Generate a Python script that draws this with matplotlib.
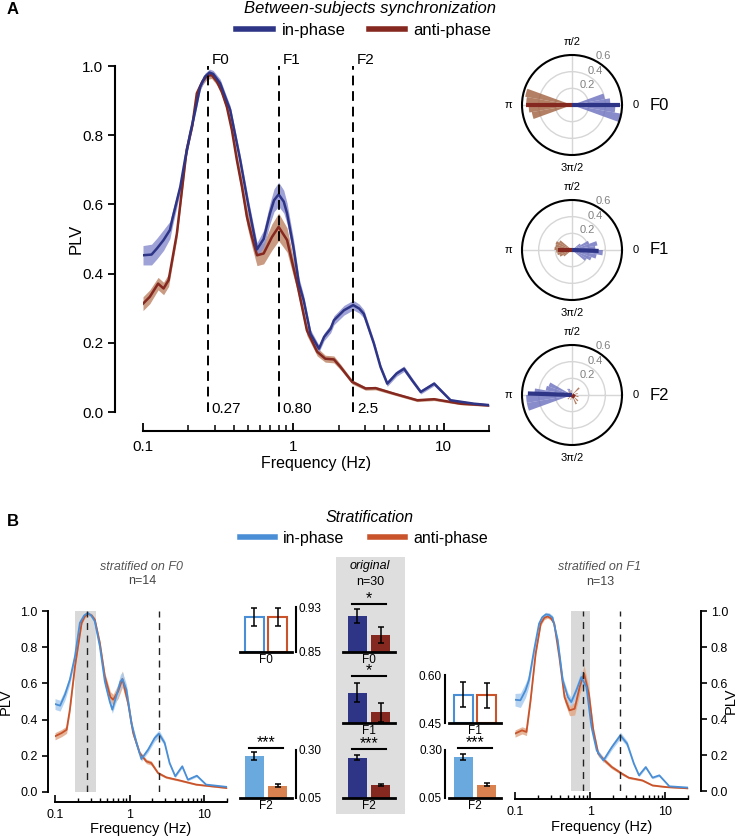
import numpy as np
import matplotlib
matplotlib.use("Agg")
import matplotlib.pyplot as plt
import matplotlib.patches as patches
from matplotlib.lines import Line2D

plt.rcParams['font.family'] = ['Liberation Sans', 'DejaVu Sans']

W, H = 736, 840

# ---- panel A : between-subjects PLV spectrum ----
a_freq_in = [0.100, 0.114, 0.124, 0.137, 0.151, 0.157, 0.177, 0.190, 0.206, 0.223, 0.240,
             0.258, 0.277, 0.293, 0.326, 0.352, 0.380, 0.443, 0.504, 0.573, 0.634, 0.700,
             0.744, 0.798, 0.863, 0.908, 1.00, 1.09, 1.17, 1.30, 1.48, 1.60, 1.77, 1.86,
             2.17, 2.50, 2.74, 2.94, 3.43, 3.80, 4.21, 4.85, 5.44, 6.20, 7.03, 8.63,
             11.1, 15.9, 20.0]
a_plv_in = [0.453, 0.455, 0.473, 0.497, 0.526, 0.559, 0.651, 0.728, 0.805, 0.873, 0.940,
            0.969, 0.981, 0.977, 0.950, 0.911, 0.873, 0.728, 0.593, 0.470, 0.500, 0.575,
            0.612, 0.629, 0.608, 0.574, 0.477, 0.370, 0.323, 0.226, 0.183, 0.217, 0.241, 0.265,
            0.294, 0.309, 0.299, 0.284, 0.198, 0.130, 0.082, 0.111, 0.125, 0.090, 0.058, 0.082,
            0.034, 0.024, 0.020]
a_err_in = [0.028, 0.030, 0.030, 0.030, 0.025, 0.022, 0.015, 0.013, 0.012, 0.011, 0.010,
            0.010, 0.010, 0.010, 0.012, 0.012, 0.012, 0.015, 0.018, 0.020, 0.025, 0.030,
            0.033, 0.035, 0.033, 0.030, 0.025, 0.018, 0.015, 0.012, 0.010, 0.011, 0.012, 0.013,
            0.014, 0.014, 0.013, 0.012, 0.010, 0.009, 0.008, 0.008, 0.008, 0.007, 0.006, 0.006,
            0.004, 0.003, 0.003]

a_freq_anti = [0.100, 0.111, 0.126, 0.137, 0.148, 0.168, 0.195, 0.213, 0.228, 0.248, 0.266,
               0.286, 0.310, 0.334, 0.361, 0.390, 0.421, 0.455, 0.491, 0.530, 0.573, 0.634,
               0.721, 0.798, 0.908, 1.06, 1.23, 1.44, 1.63, 1.86, 2.06, 2.46, 3.02, 3.52,
               4.67, 6.67, 8.63, 13.0, 20.0]
a_plv_anti = [0.313, 0.333, 0.371, 0.357, 0.381, 0.516, 0.757, 0.829, 0.921, 0.955, 0.971,
              0.974, 0.955, 0.926, 0.882, 0.815, 0.728, 0.651, 0.564, 0.506, 0.453, 0.458,
              0.506, 0.535, 0.497, 0.371, 0.236, 0.174, 0.154, 0.152, 0.130, 0.087, 0.068, 0.069,
              0.053, 0.034, 0.037, 0.024, 0.019]
a_err_anti = [0.020, 0.020, 0.018, 0.018, 0.018, 0.015, 0.012, 0.011, 0.010, 0.010, 0.010,
              0.010, 0.010, 0.011, 0.012, 0.014, 0.018, 0.022, 0.025, 0.028, 0.030, 0.030,
              0.038, 0.040, 0.035, 0.020, 0.015, 0.012, 0.010, 0.010, 0.008, 0.006, 0.005, 0.005,
              0.004, 0.004, 0.004, 0.003, 0.003]

peak_freqs = [0.27, 0.80, 2.5]
peak_names = ['F0', 'F1', 'F2']
peak_labels = ['0.27', '0.80', '2.5']

# rose histograms (bin centre in degrees, PLV) for F0, F1, F2
rose_in_ang = [[15, 5, -5, -15],
               [35, 25, 15, 5, -5, -15, -25, -35],
               [115, 125, 155, 165, 175, 185, 195]]
rose_in_val = [[0.40, 0.46, 0.52, 0.60],
               [0.12, 0.22, 0.31, 0.28, 0.37, 0.30, 0.25, 0.20],
               [0.08, 0.09, 0.30, 0.32, 0.45, 0.55, 0.55]]
rose_anti_ang = [[165, 175, 185, 195],
                 [145, 155, 165, 175, 185, 195, 205, 215],
                 [15, 45, 100, 135, 165, 225, 255, 295, 315, 345]]
rose_anti_val = [[0.57, 0.55, 0.52, 0.49],
                 [0.18, 0.21, 0.20, 0.21, 0.19, 0.18, 0.16, 0.12],
                 [0.07, 0.12, 0.06, 0.06, 0.05, 0.07, 0.06, 0.12, 0.10, 0.08]]
mean_in_ang = [0, -2, 178]
mean_in_len = [0.58, 0.32, 0.53]
mean_anti_ang = [180, 180, -40]
mean_anti_len = [0.55, 0.17, 0.04]

# ---- panel B : stratified spectra ----
s0_freq_in = [0.100, 0.117, 0.136, 0.158, 0.185, 0.215, 0.245, 0.273, 0.305, 0.341, 0.398,
              0.464, 0.490, 0.540, 0.585, 0.660, 0.750, 0.798, 0.903, 1.05, 1.23, 1.43,
              1.76, 2.15, 2.46, 2.93, 3.41, 4.06, 5.04, 5.99, 7.90, 10.5, 20.0]
s0_plv_in = [0.486, 0.477, 0.538, 0.620, 0.750, 0.934, 0.975, 0.989, 0.975, 0.943, 0.805,
             0.611, 0.570, 0.500, 0.455, 0.530, 0.610, 0.624, 0.565, 0.381, 0.271, 0.182,
             0.234, 0.298, 0.322, 0.271, 0.160, 0.087, 0.142, 0.068, 0.090, 0.041, 0.028]
s0_err_in = [0.03, 0.03, 0.03, 0.025, 0.02, 0.012, 0.01, 0.01, 0.01, 0.012, 0.015,
             0.02, 0.02, 0.02, 0.02, 0.03, 0.04, 0.04, 0.03, 0.02, 0.015, 0.012,
             0.015, 0.018, 0.02, 0.015, 0.01, 0.008, 0.008, 0.006, 0.006, 0.004, 0.004]
s0_freq_anti = [0.100, 0.123, 0.143, 0.158, 0.185, 0.227, 0.250, 0.278, 0.310, 0.341, 0.398,
                0.464, 0.550, 0.600, 0.699, 0.798, 0.950, 1.11, 1.36, 1.67, 1.94, 2.39, 3.08,
                4.64, 7.74, 20.0]
s0_plv_anti = [0.308, 0.326, 0.344, 0.455, 0.694, 0.934, 0.970, 0.985, 0.975, 0.952, 0.823,
               0.639, 0.525, 0.510, 0.556, 0.624, 0.492, 0.326, 0.215, 0.169, 0.160, 0.105, 0.081,
               0.064, 0.041, 0.022]
s0_err_anti = [0.02, 0.02, 0.02, 0.02, 0.015, 0.01, 0.01, 0.01, 0.01, 0.01, 0.015,
               0.02, 0.03, 0.03, 0.04, 0.045, 0.03, 0.02, 0.012, 0.012, 0.012, 0.008, 0.006,
               0.005, 0.004, 0.003]

s1_freq_in = [0.100, 0.118, 0.138, 0.153, 0.179, 0.209, 0.230, 0.257, 0.285, 0.316, 0.370,
              0.432, 0.505, 0.560, 0.654, 0.763, 0.892, 1.04, 1.22, 1.50, 1.94, 2.52, 3.10,
              3.81, 4.46, 5.48, 6.75, 8.30, 11.3, 20.0]
s1_plv_in = [0.507, 0.504, 0.559, 0.615, 0.781, 0.930, 0.965, 0.981, 0.978, 0.963, 0.837,
             0.615, 0.522, 0.494, 0.559, 0.633, 0.578, 0.356, 0.226, 0.170, 0.244, 0.309, 0.263,
             0.152, 0.087, 0.133, 0.074, 0.087, 0.026, 0.019]
s1_err_in = [0.035, 0.04, 0.04, 0.035, 0.02, 0.015, 0.012, 0.012, 0.012, 0.012, 0.015,
             0.02, 0.025, 0.025, 0.03, 0.04, 0.03, 0.02, 0.015, 0.012, 0.015, 0.018, 0.015,
             0.01, 0.008, 0.008, 0.006, 0.006, 0.004, 0.004]
s1_freq_anti = [0.100, 0.124, 0.142, 0.161, 0.188, 0.220, 0.245, 0.271, 0.300, 0.333, 0.389,
                0.455, 0.531, 0.621, 0.725, 0.830, 0.959, 1.10, 1.28, 1.58, 1.94, 2.65, 3.26,
                4.94, 6.75, 10.2, 20.0]
s1_plv_anti = [0.319, 0.337, 0.328, 0.504, 0.763, 0.930, 0.962, 0.970, 0.960, 0.930, 0.744,
               0.522, 0.448, 0.457, 0.578, 0.652, 0.541, 0.337, 0.207, 0.167, 0.133, 0.096, 0.074,
               0.059, 0.031, 0.022, 0.015]
s1_err_anti = [0.02, 0.02, 0.02, 0.02, 0.015, 0.01, 0.01, 0.01, 0.01, 0.012, 0.015,
               0.025, 0.03, 0.035, 0.04, 0.045, 0.035, 0.02, 0.015, 0.012, 0.01, 0.008, 0.006,
               0.005, 0.004, 0.003, 0.003]

# bar insets: [in-phase, anti-phase]
s0_F0_vals, s0_F0_errs = [0.913, 0.912], [0.016, 0.016]
s0_F2_vals, s0_F2_errs = [0.269, 0.114], [0.020, 0.008]
orig_F0_vals, orig_F0_errs = [0.914, 0.880], [0.013, 0.014]
orig_F1_vals, orig_F1_errs = [0.545, 0.483], [0.029, 0.030]
orig_F2_vals, orig_F2_errs = [0.260, 0.116], [0.013, 0.006]
s1_F1_vals, s1_F1_errs = [0.539, 0.536], [0.038, 0.038]
s1_F2_vals, s1_F2_errs = [0.262, 0.119], [0.016, 0.008]

# colours
NAVY = '#2e3586'
DRED = '#85281f'
NAVY_BAND = '#8e92cf'
DRED_BAND = '#c08a6c'
LBLUE = '#4a8ed6'
ORANGE = '#c9532b'
LBLUE_BAND = '#a9cdf0'
ORANGE_BAND = '#e2a989'
LBLUE_BAR = '#6aa9dd'
ORANGE_BAR = '#d9824f'
ROSE_IN = '#6b70bd'
ROSE_ANTI = '#a0613f'


def px_axes(fig, x0, y0, x1, y1, **kw):
    return fig.add_axes([x0 / W, 1 - y1 / H, (x1 - x0) / W, (y1 - y0) / H], **kw)


def draw_spectrum(ax, f_in, p_in, e_in, f_an, p_an, e_an, c_in, c_an, b_in, b_an, lw):
    f_in, p_in, e_in = map(np.asarray, (f_in, p_in, e_in))
    f_an, p_an, e_an = map(np.asarray, (f_an, p_an, e_an))
    ax.fill_between(f_an, p_an - e_an, p_an + e_an, color=b_an, lw=0, alpha=0.85, zorder=2)
    ax.fill_between(f_in, p_in - e_in, p_in + e_in, color=b_in, lw=0, alpha=0.85, zorder=2)
    ax.plot(f_an, p_an, color=c_an, lw=lw, zorder=3, solid_joinstyle='round')
    ax.plot(f_in, p_in, color=c_in, lw=lw, zorder=3, solid_joinstyle='round')
    ax.set_xscale('log')
    ax.set_xlim(0.1, 20)
    ax.set_ylim(0, 1)
    ax.set_xticks([0.1, 1, 10])
    ax.set_xticklabels(['0.1', '1', '10'])
    ax.set_yticks([0, 0.2, 0.4, 0.6, 0.8, 1.0])
    ax.set_yticklabels(['0.0', '0.2', '0.4', '0.6', '0.8', '1.0'])
    ax.patch.set_alpha(0)


fig = plt.figure(figsize=(W / 100, H / 100), dpi=100)

# ================= panel A =================
axA = px_axes(fig, 143, 66, 489, 412)
draw_spectrum(axA, a_freq_in, a_plv_in, a_err_in, a_freq_anti, a_plv_anti, a_err_anti,
              NAVY, DRED, NAVY_BAND, DRED_BAND, 1.8)
for f, nm, lb in zip(peak_freqs, peak_names, peak_labels):
    axA.plot([f, f], [0, 1], color='k', lw=1.4, ls=(0, (5, 3)), zorder=4, clip_on=False)
    axA.text(f * 1.06, 1.018, nm, fontsize=11, ha='left', va='center', clip_on=False)
    axA.text(f * 1.06, 0.008, lb, fontsize=11, ha='left', va='center')
for s in ['top', 'right']:
    axA.spines[s].set_visible(False)
axA.spines['left'].set_position(('outward', 20))
axA.spines['bottom'].set_position(('outward', 14))
axA.spines['left'].set_bounds(0, 1)
axA.spines['bottom'].set_bounds(0.1, 20)
axA.spines['left'].set_linewidth(1.5)
axA.spines['bottom'].set_linewidth(1.5)
axA.tick_params(axis='y', direction='out', length=5, width=1.3, labelsize=11)
axA.tick_params(axis='x', which='major', direction='in', length=6, width=1.3, labelsize=11, pad=6)
axA.tick_params(axis='x', which='minor', direction='in', length=4, width=1.1)
axA.set_ylabel('PLV', fontsize=12)
axA.yaxis.set_label_coords(-0.173, 0.5)
axA.set_xlabel('Frequency (Hz)', fontsize=11.5)
axA.xaxis.set_label_coords(0.5, -0.128)

fig.text(7 / W, 1 - 10 / H, 'A', fontsize=12, fontweight='bold', va='center')
fig.text(370 / W, 1 - 9 / H, 'Between-subjects synchronization', fontsize=12,
         style='italic', ha='center', va='center')
fig.legend(handles=[Line2D([], [], color=NAVY, lw=4), Line2D([], [], color=DRED, lw=4)],
           labels=['in-phase', 'anti-phase'], loc='center', bbox_to_anchor=(364 / W, 1 - 30 / H),
           ncol=2, frameon=False, fontsize=12, handlelength=2.2, handletextpad=0.5,
           columnspacing=1.4)

# rose plots
polar_cy = [105, 250, 395]
for k in range(3):
    cy = polar_cy[k]
    pax = px_axes(fig, 522, cy - 50, 622, cy + 50, projection='polar')
    pax.bar(np.deg2rad(rose_in_ang[k]), rose_in_val[k], width=np.deg2rad(10),
            color=ROSE_IN, alpha=0.8, edgecolor='none', zorder=2)
    pax.bar(np.deg2rad(rose_anti_ang[k]), rose_anti_val[k], width=np.deg2rad(10),
            color=ROSE_ANTI, alpha=0.8, edgecolor='none', zorder=2)
    pax.plot([np.deg2rad(mean_in_ang[k])] * 2, [0, mean_in_len[k]], color=NAVY, lw=3,
             solid_capstyle='butt', zorder=3)
    pax.plot([np.deg2rad(mean_anti_ang[k])] * 2, [0, mean_anti_len[k]], color=DRED, lw=3,
             solid_capstyle='butt', zorder=3)
    pax.set_ylim(0, 0.6)
    pax.set_rgrids([0.2, 0.4, 0.6], labels=['0.2', '0.4', '0.6'], angle=62,
                   color='#808080', fontsize=8)
    pax.set_thetagrids([0, 90, 180, 270], labels=['0', 'π/2', 'π', '3π/2'], fontsize=8)
    pax.tick_params(axis='x', pad=-1)
    pax.grid(color='#d6d6d6', lw=1)
    pax.spines['polar'].set_linewidth(1.5)
    fig.text(650 / W, 1 - cy / H, peak_names[k], fontsize=12, va='center', ha='left')

# ================= panel B =================
fig.text(7 / W, 1 - 522 / H, 'B', fontsize=12, fontweight='bold', va='center')
fig.text(370 / W, 1 - 517 / H, 'Stratification', fontsize=11.5, style='italic',
         ha='center', va='center')
fig.legend(handles=[Line2D([], [], color=LBLUE, lw=4), Line2D([], [], color=ORANGE, lw=4)],
           labels=['in-phase', 'anti-phase'], loc='center', bbox_to_anchor=(364 / W, 1 - 538 / H),
           ncol=2, frameon=False, fontsize=11.5, handlelength=2.2, handletextpad=0.5,
           columnspacing=1.6)

# grey box behind the "original" bars
fig.add_artist(patches.Rectangle((336 / W, 1 - 814 / H), 69 / W, 257 / H,
                                 transform=fig.transFigure, facecolor='#dedede',
                                 edgecolor='none', zorder=0))
fig.text(370 / W, 1 - 566 / H, 'original', fontsize=9, style='italic', ha='center', va='center')
fig.text(370 / W, 1 - 582 / H, 'n=30', fontsize=9, ha='center', va='center')

fig.text(142 / W, 1 - 567 / H, 'stratified on F0', fontsize=9, style='italic',
         color='#555555', ha='center', va='center')
fig.text(142 / W, 1 - 581 / H, 'n=14', fontsize=9, color='#444444', ha='center', va='center')
fig.text(600 / W, 1 - 567 / H, 'stratified on F1', fontsize=9, style='italic',
         color='#555555', ha='center', va='center')
fig.text(600 / W, 1 - 582 / H, 'n=13', fontsize=9, color='#444444', ha='center', va='center')

# left spectrum
axL = px_axes(fig, 55, 611, 227, 792)
draw_spectrum(axL, s0_freq_in, s0_plv_in, s0_err_in, s0_freq_anti, s0_plv_anti, s0_err_anti,
              LBLUE, ORANGE, LBLUE_BAND, ORANGE_BAND, 1.3)
axL.axvspan(0.185, 0.35, color='#d9d9d9', lw=0, zorder=0)
for f in [0.27, 2.5]:
    axL.plot([f, f], [0, 1], color='#222222', lw=1.0, ls=(0, (5, 4)), zorder=4)
for s in ['top', 'right']:
    axL.spines[s].set_visible(False)
axL.spines['left'].set_position(('outward', 5))
axL.spines['bottom'].set_position(('outward', 7))
axL.spines['left'].set_bounds(0, 1)
axL.spines['bottom'].set_bounds(0.1, 20)
axL.spines['left'].set_linewidth(1.4)
axL.spines['bottom'].set_linewidth(1.4)
axL.tick_params(axis='y', direction='out', length=4, width=1.2, labelsize=9)
axL.tick_params(axis='x', which='major', direction='in', length=5, width=1.2, labelsize=9, pad=5)
axL.tick_params(axis='x', which='minor', direction='in', length=3, width=1.0)
axL.set_ylabel('PLV', fontsize=10.5)
axL.yaxis.set_label_coords(-0.245, 0.5)
axL.set_xlabel('Frequency (Hz)', fontsize=10.5)
axL.xaxis.set_label_coords(0.5, -0.163)

# right spectrum
axR = px_axes(fig, 515, 611, 688, 791)
draw_spectrum(axR, s1_freq_in, s1_plv_in, s1_err_in, s1_freq_anti, s1_plv_anti, s1_err_anti,
              LBLUE, ORANGE, LBLUE_BAND, ORANGE_BAND, 1.3)
axR.axvspan(0.556, 0.98, color='#d9d9d9', lw=0, zorder=0)
for f in [0.80, 2.5]:
    axR.plot([f, f], [0, 1], color='#222222', lw=1.0, ls=(0, (5, 4)), zorder=4)
for s in ['top', 'left']:
    axR.spines[s].set_visible(False)
axR.yaxis.tick_right()
axR.yaxis.set_label_position('right')
axR.spines['right'].set_position(('outward', 9))
axR.spines['bottom'].set_position(('outward', 6))
axR.spines['right'].set_bounds(0, 1)
axR.spines['bottom'].set_bounds(0.1, 20)
axR.spines['right'].set_linewidth(1.4)
axR.spines['bottom'].set_linewidth(1.4)
axR.tick_params(axis='y', direction='out', length=4, width=1.2, labelsize=9)
axR.tick_params(axis='x', which='major', direction='in', length=5, width=1.2, labelsize=9, pad=5)
axR.tick_params(axis='x', which='minor', direction='in', length=3, width=1.0)
axR.set_ylabel('PLV', fontsize=10.5)
axR.yaxis.set_label_coords(1.205, 0.5)
axR.set_xlabel('Frequency (Hz)', fontsize=10.5)
axR.xaxis.set_label_coords(0.5, -0.16)


def bar_group(x0, y0, y1, vals, errs, lims, colors, filled, label, spine=None, sig=None,
              sig_y=1.04):
    ax = px_axes(fig, x0, y0, x0 + 52, y1)
    xs = [0, 1]
    lo = lims[0]
    heights = [v - lo for v in vals]
    if filled:
        ax.bar(xs, heights, bottom=lo, width=0.8, color=colors, edgecolor='none', zorder=1)
    else:
        ax.bar(xs, heights, bottom=lo, width=0.8, color='white', edgecolor=colors,
               linewidth=1.5, zorder=1)
    ax.errorbar(xs, vals, yerr=errs, fmt='none', ecolor='k', elinewidth=1.1,
                capsize=2.5, capthick=1.1, zorder=3)
    ax.set_xlim(-0.6, 1.6)
    ax.set_ylim(*lims)
    ax.patch.set_alpha(0)
    for s in ['top', 'left', 'right']:
        ax.spines[s].set_visible(False)
    ax.spines['bottom'].set_linewidth(2)
    ax.spines['bottom'].set_zorder(4)
    ax.set_xticks([])
    ax.set_yticks([])
    ax.text(0.5, -0.05, label, transform=ax.get_xaxis_transform(), fontsize=8.5,
            ha='center', va='top')
    if spine is not None:
        ax.spines[spine].set_visible(True)
        ax.spines[spine].set_position(('outward', 3))
        ax.spines[spine].set_linewidth(1.5)
        if spine == 'right':
            ax.yaxis.tick_right()
        ax.set_yticks(list(lims))
        ax.set_yticklabels(['%.2f' % v for v in lims])
        ax.tick_params(axis='y', length=0, pad=2, labelsize=8.5)
    if sig is not None:
        ax.plot([-0.2, 1.2], [sig_y, sig_y], color='k', lw=1.5,
                transform=ax.get_xaxis_transform(), clip_on=False)
        ax.annotate(sig, xy=(0.5, sig_y), xycoords=ax.get_xaxis_transform(),
                    xytext=(0, 0.5), textcoords='offset points', fontsize=11.5,
                    ha='center', va='baseline', annotation_clip=False)
    return ax


lim_F0 = (0.85, 0.93)
lim_F1 = (0.45, 0.60)
lim_F2 = (0.05, 0.30)
strat_cols = [LBLUE, ORANGE]
strat_fill = [LBLUE_BAR, ORANGE_BAR]
orig_cols = [NAVY, DRED]

bar_group(240, 607, 652, s0_F0_vals, s0_F0_errs, lim_F0, strat_cols, False, 'F0', spine='right')
bar_group(240, 750, 798, s0_F2_vals, s0_F2_errs, lim_F2, strat_fill, True, 'F2', spine='right',
          sig='***', sig_y=1.035)
bar_group(343, 607, 652, orig_F0_vals, orig_F0_errs, lim_F0, orig_cols, True, 'F0', sig='*',
          sig_y=1.07)
bar_group(343, 675, 723, orig_F1_vals, orig_F1_errs, lim_F1, orig_cols, True, 'F1', sig='*',
          sig_y=0.98)
bar_group(343, 750, 798, orig_F2_vals, orig_F2_errs, lim_F2, orig_cols, True, 'F2', sig='***',
          sig_y=1.02)
bar_group(449, 675, 723, s1_F1_vals, s1_F1_errs, lim_F1, strat_cols, False, 'F1', spine='left')
bar_group(449, 750, 798, s1_F2_vals, s1_F2_errs, lim_F2, strat_fill, True, 'F2', spine='left',
          sig='***', sig_y=1.035)

fig.savefig('out.png', dpi=100)
